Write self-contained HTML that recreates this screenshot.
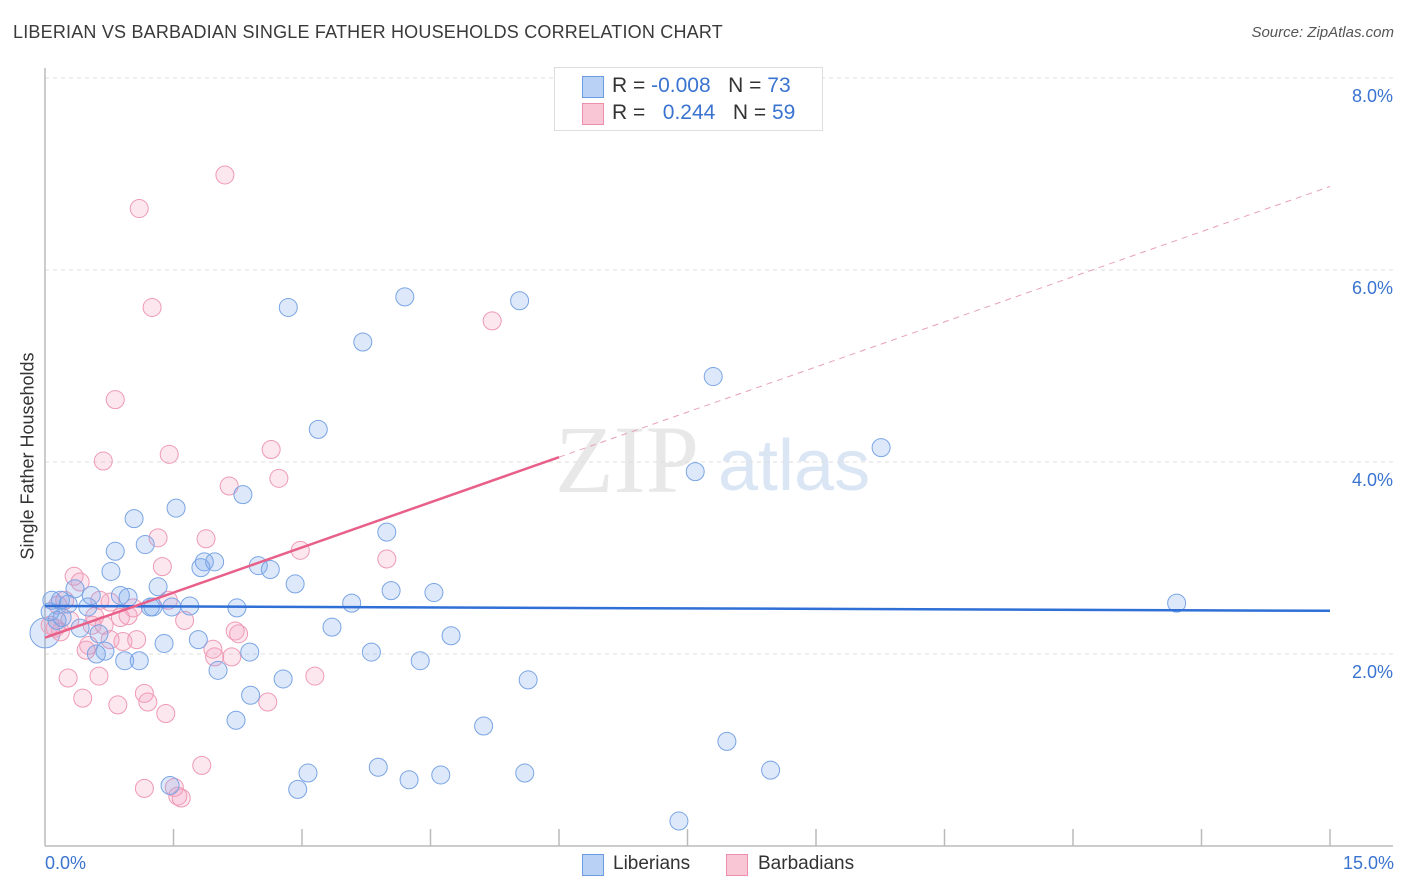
<!DOCTYPE html>
<html><head><meta charset="utf-8"><style>
body{margin:0;background:#fff;font-family:"Liberation Sans",sans-serif;}
#wrap{position:relative;width:1406px;height:892px;overflow:hidden;}
.t{position:absolute;white-space:nowrap;}
</style></head><body>
<div id="wrap">
<div class="t" style="left:13px;top:22px;font-size:18px;color:#3a3a3a;letter-spacing:0.2px;">LIBERIAN VS BARBADIAN SINGLE FATHER HOUSEHOLDS CORRELATION CHART</div>
<div class="t" style="right:12px;top:24px;font-size:15px;color:#555;font-style:italic;">Source: ZipAtlas.com</div>
<div class="t" style="left:28px;top:456px;font-size:18px;color:#333;transform:translate(-50%,-50%) rotate(-90deg);">Single Father Households</div>
<svg id="plot" width="1406" height="892" style="position:absolute;left:0;top:0"></svg>
<div style="position:absolute;left:554px;top:67px;width:267px;height:62px;border:1px solid #ddd;background:#fff;font-size:21px;">
 <div style="position:absolute;left:27px;top:8px;width:20px;height:20px;background:#b8d1f5;border:1px solid #6b9be0;"></div>
 <div class="t" style="left:57px;top:6px;color:#333;">R = <span style="color:#3a74d0">-0.008</span>&nbsp;&nbsp;&nbsp;N = <span style="color:#3a74d0">73</span></div>
 <div style="position:absolute;left:27px;top:35px;width:20px;height:20px;background:#f9c6d5;border:1px solid #ec8fad;"></div>
 <div class="t" style="left:57px;top:33px;color:#333;">R = &nbsp;&nbsp;<span style="color:#3a74d0">0.244</span>&nbsp;&nbsp;&nbsp;N = <span style="color:#3a74d0">59</span></div>
</div>
<div class="t" style="left:45px;top:853px;font-size:18px;color:#3a74d0;">0.0%</div>
<div class="t" style="right:12px;top:853px;font-size:18px;color:#3a74d0;">15.0%</div>
<div style="position:absolute;left:582px;top:854px;width:20px;height:20px;background:#b8d1f5;border:1px solid #6b9be0;"></div>
<div class="t" style="left:613px;top:853px;font-size:19px;color:#333;">Liberians</div>
<div style="position:absolute;left:726px;top:854px;width:20px;height:20px;background:#f9c6d5;border:1px solid #ec8fad;"></div>
<div class="t" style="left:758px;top:853px;font-size:19px;color:#333;">Barbadians</div>
</div>
<script>
const yTicks=[2,4,6,8];
const yTickLabels=["2.0%","4.0%","6.0%","8.0%"];
const blueX=[2.84,4.20,5.54,3.71,7.80,3.19,9.76,7.59,2.31,1.53,1.04,3.99,0.82,1.17,0.77,2.49,2.63,1.86,1.98,1.82,1.32,0.35,2.92,4.04,4.54,0.88,0.97,0.54,0.18,0.27,1.23,1.26,1.48,1.69,2.24,3.58,13.21,0.50,0.06,0.14,0.41,3.35,0.63,4.74,1.39,1.79,2.39,3.81,0.60,0.70,0.93,1.10,4.38,2.02,2.78,5.64,2.40,2.23,5.12,7.96,3.89,3.07,4.62,5.60,8.47,4.25,2.95,1.46,7.40,0.20,0.08];
const blueY=[5.61,5.72,5.68,5.25,4.89,4.34,4.15,3.90,3.66,3.52,3.41,3.27,3.07,3.14,2.86,2.92,2.88,2.96,2.96,2.90,2.70,2.68,2.73,2.66,2.64,2.61,2.59,2.61,2.56,2.52,2.49,2.49,2.49,2.50,2.48,2.53,2.53,2.49,2.44,2.35,2.27,2.28,2.21,2.19,2.11,2.15,2.02,2.02,2.00,2.03,1.93,1.93,1.93,1.83,1.74,1.73,1.57,1.31,1.25,1.09,0.82,0.76,0.74,0.76,0.79,0.69,0.59,0.63,0.26,2.38,2.56];
const pinkX=[2.10,1.10,1.25,5.22,0.82,0.68,1.45,2.64,2.15,2.73,1.88,1.32,2.98,3.99,1.37,0.34,0.41,0.76,1.44,1.03,0.15,0.23,0.58,0.88,0.97,0.55,0.69,1.63,2.22,2.26,0.12,0.18,0.76,0.91,1.07,0.51,1.96,1.98,2.18,0.48,3.15,0.27,0.63,1.16,0.44,1.20,2.60,0.85,1.41,1.83,1.16,1.51,1.59,1.55,0.29,0.64,0.06];
const pinkY=[6.99,6.64,5.61,5.47,4.65,4.01,4.08,4.13,3.75,3.83,3.20,3.21,3.08,2.99,2.91,2.81,2.75,2.54,2.56,2.48,2.51,2.56,2.39,2.38,2.40,2.30,2.30,2.35,2.24,2.21,2.27,2.23,2.15,2.13,2.15,2.09,2.05,1.97,1.97,2.04,1.77,1.75,1.77,1.59,1.54,1.50,1.50,1.47,1.38,0.84,0.60,0.61,0.50,0.52,2.35,2.56,2.30];
const blueTrend=[2.50,2.45];
const pinkTrend=[2.17,6.87];
const pinkSolidEnd=6.0;

const NS="http://www.w3.org/2000/svg";
const svg=document.getElementById('plot');
const X0=45,X1=1330,Y0=846,PY=96;
const sx=v=>X0+v/15*(X1-X0);
const sy=v=>Y0-v*PY;
function mk(tag,attrs){const e=document.createElementNS(NS,tag);for(const k in attrs)e.setAttribute(k,attrs[k]);svg.appendChild(e);return e;}
let wm=mk('text',{x:555,y:492,'font-size':96,'font-family':'Liberation Serif, serif',fill:'#e8e8e8'});wm.textContent='ZIP';


let wm2=mk('text',{x:718,y:490,'font-size':72,'font-family':'Liberation Sans, sans-serif',fill:'#dbe6f5'});wm2.textContent='atlas';


yTicks.forEach((t,i)=>{
 const g=mk('line',{x1:X0,x2:1393,y1:sy(t),y2:sy(t),stroke:'#ddd','stroke-dasharray':'4,4'});
 
 
 const l=mk('text',{x:1393,y:sy(t)+24,'text-anchor':'end','font-size':18,fill:'#3a74d0','font-family':'Liberation Sans, sans-serif'});
 l.textContent=yTickLabels[i];
 
 
});
let ya=mk('line',{x1:X0,x2:X0,y1:68,y2:Y0,stroke:'#bbb','stroke-width':1.5});


let xa=mk('line',{x1:X0,x2:1393,y1:Y0,y2:Y0,stroke:'#bbb','stroke-width':1.5});


for(let i=1;i<=10;i++){const tk=mk('line',{x1:sx(i*1.5),x2:sx(i*1.5),y1:829,y2:Y0,stroke:'#bbb','stroke-width':1.5});
 
 }
function pts(xs,ys,fill,stroke,name){xs.forEach((x,i)=>{const c=mk('circle',{cx:sx(x),cy:sy(ys[i]),r:9,fill:fill,stroke:stroke,'stroke-width':1});
 
 });}
let big=mk('circle',{cx:sx(0),cy:sy(2.22),r:15,fill:'rgba(120,165,235,0.25)',stroke:'#7aa5e4','stroke-width':1});


pts(pinkX,pinkY,'rgba(245,160,190,0.25)','#ef9ab5','barbadian-point');
pts(blueX,blueY,'rgba(120,165,235,0.25)','#7aa5e4','liberian-point');
let bt=mk('line',{x1:sx(0),x2:sx(15),y1:sy(blueTrend[0]),y2:sy(blueTrend[1]),stroke:'#2f6fd6','stroke-width':2.5});


const pAt=x=>pinkTrend[0]+(pinkTrend[1]-pinkTrend[0])*x/15;
let pt=mk('line',{x1:sx(0),x2:sx(pinkSolidEnd),y1:sy(pAt(0)),y2:sy(pAt(pinkSolidEnd)),stroke:'#e8608a','stroke-width':2.5});


let pd=mk('line',{x1:sx(pinkSolidEnd),x2:sx(15),y1:sy(pAt(pinkSolidEnd)),y2:sy(pAt(15)),stroke:'#e8a0b8','stroke-width':1,'stroke-dasharray':'6,5'});


</script>
</body></html>
